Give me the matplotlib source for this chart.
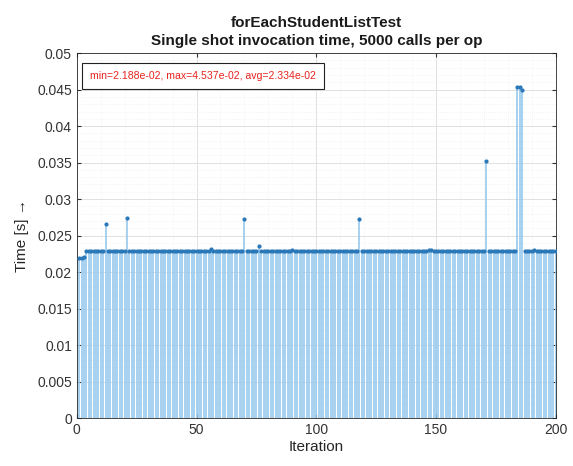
import matplotlib
matplotlib.use("Agg")
import matplotlib.pyplot as plt
from matplotlib.ticker import MultipleLocator

plt.rcParams['font.family'] = ['Liberation Sans', 'DejaVu Sans']

# ----------------------------
# Data
# ----------------------------
iterations = list(range(1, 201))
times = [
    0.02188, 0.02195, 0.02200, 0.02290, 0.02291, 0.02290, 0.02289, 0.02290, 0.02291, 0.02290,
    0.02290, 0.02653, 0.02290, 0.02289, 0.02290, 0.02290, 0.02291, 0.02290, 0.02289, 0.02290,
    0.02735, 0.02289, 0.02288, 0.02288, 0.02289, 0.02288, 0.02287, 0.02288, 0.02288, 0.02289,
    0.02288, 0.02288, 0.02287, 0.02288, 0.02289, 0.02288, 0.02288, 0.02288, 0.02287, 0.02288,
    0.02288, 0.02289, 0.02288, 0.02288, 0.02287, 0.02288, 0.02288, 0.02289, 0.02288, 0.02288,
    0.02288, 0.02287, 0.02288, 0.02288, 0.02289, 0.02310, 0.02290, 0.02288, 0.02288, 0.02287,
    0.02288, 0.02288, 0.02289, 0.02288, 0.02288, 0.02287, 0.02288, 0.02288, 0.02288, 0.02730,
    0.02288, 0.02288, 0.02289, 0.02288, 0.02288, 0.02360, 0.02288, 0.02288, 0.02287, 0.02288,
    0.02288, 0.02289, 0.02288, 0.02288, 0.02287, 0.02288, 0.02288, 0.02288, 0.02289, 0.02305,
    0.02290, 0.02288, 0.02288, 0.02287, 0.02288, 0.02288, 0.02289, 0.02288, 0.02288, 0.02287,
    0.02288, 0.02288, 0.02289, 0.02288, 0.02288, 0.02287, 0.02288, 0.02288, 0.02288, 0.02289,
    0.02288, 0.02288, 0.02287, 0.02288, 0.02288, 0.02289, 0.02288, 0.02725, 0.02288, 0.02288,
    0.02287, 0.02288, 0.02288, 0.02289, 0.02288, 0.02288, 0.02287, 0.02288, 0.02288, 0.02288,
    0.02289, 0.02288, 0.02288, 0.02287, 0.02288, 0.02288, 0.02289, 0.02288, 0.02288, 0.02287,
    0.02288, 0.02288, 0.02289, 0.02290, 0.02292, 0.02295, 0.02300, 0.02296, 0.02292, 0.02290,
    0.02288, 0.02288, 0.02287, 0.02288, 0.02288, 0.02289, 0.02288, 0.02288, 0.02287, 0.02288,
    0.02288, 0.02289, 0.02288, 0.02288, 0.02287, 0.02288, 0.02288, 0.02288, 0.02289, 0.02288,
    0.03525, 0.02288, 0.02287, 0.02288, 0.02288, 0.02289, 0.02288, 0.02288, 0.02287, 0.02288,
    0.02288, 0.02289, 0.02288, 0.04530, 0.04537, 0.04500, 0.02290, 0.02289, 0.02290, 0.02291,
    0.02305, 0.02292, 0.02290, 0.02289, 0.02290, 0.02291, 0.02290, 0.02289, 0.02290, 0.02290,
]

title_lines = ["forEachStudentListTest", "Single shot invocation time, 5000 calls per op"]
stats_label = "min=2.188e-02, max=4.537e-02, avg=2.334e-02"
x_ticks = [0, 50, 100, 150, 200]
y_ticks = [0, 0.005, 0.01, 0.015, 0.02, 0.025, 0.03, 0.035, 0.04, 0.045, 0.05]
y_tick_labels = ["0", "0.005", "0.01", "0.015", "0.02", "0.025", "0.03",
                 "0.035", "0.04", "0.045", "0.05"]

# ----------------------------
# Figure
# ----------------------------
fig = plt.figure(figsize=(5.73, 4.66), dpi=100)
ax = fig.add_axes([0.134, 0.103, 0.836, 0.783])

# grid (MATLAB-ish major + minor)
ax.set_axisbelow(True)
ax.xaxis.set_minor_locator(MultipleLocator(10))
ax.yaxis.set_minor_locator(MultipleLocator(0.001))
ax.grid(True, which="major", color="#dcdcdc", lw=0.6)
ax.grid(True, which="minor", color="#ececec", lw=0.5, ls=":")

# stems
ax.vlines(iterations, 0, times, color="#98c8ee", lw=1.2, zorder=2)
ax.plot(iterations, times, ls="none", marker="o", ms=2.0,
        mfc="#2a78b8", mec="#2a78b8", zorder=3)

ax.set_xlim(0, 200)
ax.set_ylim(0, 0.05)
ax.set_xticks(x_ticks)
ax.set_yticks(y_ticks)
ax.set_yticklabels(y_tick_labels)

ax.tick_params(axis="both", which="major", direction="in", length=3,
               labelsize=10, colors="#333333", top=True, right=True)
ax.tick_params(axis="both", which="minor", length=0)
for s in ax.spines.values():
    s.set_color("#262626")
    s.set_linewidth(0.6)

ax.set_xlabel("Iteration", fontsize=11, color="#262626", labelpad=2)
ax.set_ylabel("Time [s] \u2192", fontsize=11, color="#262626", labelpad=6)
ax.set_title("\n".join(title_lines), fontsize=11, fontweight="bold",
             color="#1a1a1a", pad=6, linespacing=1.3)

ax.text(0.027, 0.952, stats_label, transform=ax.transAxes,
        fontsize=7.6, color="#e8231e", va="top", ha="left",
        bbox=dict(boxstyle="square,pad=0.75", fc="white", ec="#222222", lw=0.8))

fig.savefig("out.png", dpi=100)
